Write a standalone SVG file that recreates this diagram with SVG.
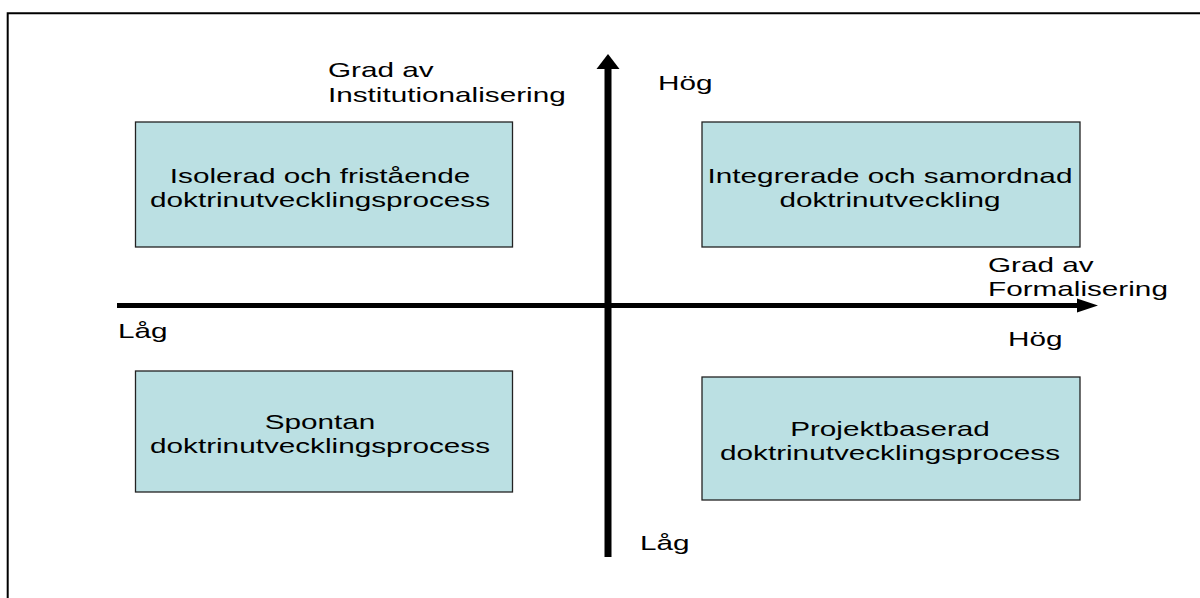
<svg xmlns="http://www.w3.org/2000/svg" width="1200" height="598" viewBox="0 0 1200 598">
  <style>
    .box { fill: #bbe0e3; stroke: #222222; stroke-width: 1.3; }
    .lbl { font-family: "Liberation Sans", Arial, sans-serif; font-size: 21px; fill: #000000; }
    .mid { text-anchor: middle; }
    .axis { fill: #000000; }
  </style>

  <rect width="1200" height="598" fill="#ffffff"/>
  <!-- outer frame -->
  <path d="M7.7,598 L7.7,13.3 L1200,13.3" fill="none" stroke="#000000" stroke-width="2"/>

  <!-- axes: shafts and heads drawn as filled shapes -->
  <g id="connectors">
    <rect class="axis" x="604.5" y="68" width="7" height="489"/>
    <path class="axis" d="M608,54 L619.5,69 L596.5,69 Z"/>
    <rect class="axis" x="117" y="303" width="961" height="5"/>
    <path class="axis" d="M1098,305.5 L1077,298.5 L1077,312.5 Z"/>
  </g>

  <!-- axis labels -->
  <g id="axis-labels">
    <text class="lbl" x="328" y="77" textLength="105.6" lengthAdjust="spacingAndGlyphs">Grad av</text>
    <text class="lbl" x="328" y="101.5" textLength="237.7" lengthAdjust="spacingAndGlyphs">Institutionalisering</text>
    <text class="lbl" x="658" y="90" textLength="54.5" lengthAdjust="spacingAndGlyphs">Hög</text>
    <text class="lbl" x="988" y="272" textLength="105.6" lengthAdjust="spacingAndGlyphs">Grad av</text>
    <text class="lbl" x="988" y="296" textLength="179.9" lengthAdjust="spacingAndGlyphs">Formalisering</text>
    <text class="lbl" x="118" y="338" textLength="49.5" lengthAdjust="spacingAndGlyphs">Låg</text>
    <text class="lbl" x="1008" y="346" textLength="54.5" lengthAdjust="spacingAndGlyphs">Hög</text>
    <text class="lbl" x="640" y="550" textLength="49.5" lengthAdjust="spacingAndGlyphs">Låg</text>
  </g>

  <g id="node-isolerad">
    <rect class="box" x="135.5" y="122" width="377" height="125"/>
    <text class="lbl mid" x="320" y="183" textLength="300.4" lengthAdjust="spacingAndGlyphs">Isolerad och fristående</text>
    <text class="lbl mid" x="320" y="207" textLength="340" lengthAdjust="spacingAndGlyphs">doktrinutvecklingsprocess</text>
  </g>

  <g id="node-integrerade">
    <rect class="box" x="702" y="122" width="378" height="125"/>
    <text class="lbl mid" x="890" y="183" textLength="364.8" lengthAdjust="spacingAndGlyphs">Integrerade och samordnad</text>
    <text class="lbl mid" x="890" y="207" textLength="221" lengthAdjust="spacingAndGlyphs">doktrinutveckling</text>
  </g>

  <g id="node-spontan">
    <rect class="box" x="135.5" y="371" width="377" height="121"/>
    <text class="lbl mid" x="320" y="429" textLength="110.6" lengthAdjust="spacingAndGlyphs">Spontan</text>
    <text class="lbl mid" x="320" y="453" textLength="340" lengthAdjust="spacingAndGlyphs">doktrinutvecklingsprocess</text>
  </g>

  <g id="node-projektbaserad">
    <rect class="box" x="702" y="377" width="378" height="123"/>
    <text class="lbl mid" x="890" y="436" textLength="199.7" lengthAdjust="spacingAndGlyphs">Projektbaserad</text>
    <text class="lbl mid" x="890" y="460" textLength="340" lengthAdjust="spacingAndGlyphs">doktrinutvecklingsprocess</text>
  </g>
</svg>
